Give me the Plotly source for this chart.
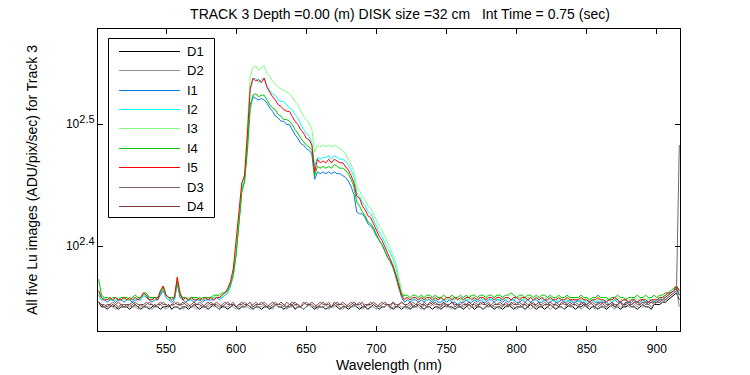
import plotly.graph_objects as go

# Wavelength sampling grid (nm)
wavelength = list(range(502, 917, 2))

D1 = [
226,224,224,223,224,225,224,223,224,224,
224,223,224,225,224,223,224,224,223,224,
225,224,223,224,224,225,223,224,224,223,
224,224,223,224,225,224,223,224,224,223,
224,225,224,223,224,224,223,224,225,224,
223,224,224,225,224,223,224,224,223,224,
224,223,224,225,224,224,223,224,224,225,
223,224,224,223,224,225,224,223,224,224,
224,223,224,224,225,224,223,224,224,223,
224,225,224,223,224,224,223,224,225,224,
223,224,224,225,224,223,224,224,223,224,
224,223,224,224,225,224,223,224,224,223,
224,224,223,224,225,224,224,223,224,224,
223,224,225,224,223,224,224,223,224,225,
224,223,224,224,223,224,225,224,223,224,
224,224,223,224,225,224,223,224,224,223,
224,225,224,223,224,224,223,224,225,224,
223,224,224,225,224,223,224,224,223,224,
224,223,224,225,224,224,223,224,224,225,
224,224,223,224,225,224,224,223,225,225,
225,226,226,227,228,229,230,227]

D2 = [
226,225,224,224,225,224,223,224,225,224,
224,225,224,224,223,224,225,224,224,223,
224,224,225,224,223,224,225,224,224,225,
223,224,225,224,224,223,224,225,224,224,
225,224,224,223,225,224,224,225,224,223,
224,225,224,224,223,224,225,224,224,225,
224,224,223,225,224,224,225,223,224,224,
225,224,224,223,224,225,224,224,223,224,
224,225,223,224,224,225,224,223,224,225,
224,224,225,224,223,224,225,224,224,223,
225,224,224,225,223,224,224,225,224,224,
223,224,225,224,224,223,225,224,224,225,
224,223,224,225,224,224,223,224,225,224,
224,225,223,224,224,225,224,223,224,224,
225,224,224,223,225,224,224,225,224,223,
224,224,225,224,223,224,225,224,224,225,
224,223,224,225,224,224,223,225,224,224,
225,224,223,224,225,224,224,223,224,225,
224,224,225,224,223,225,224,224,225,224,
224,225,224,225,224,225,225,224,225,226,
226,226,227,228,229,230,231,224]

I1 = [
229,227,227,226,227,227,226,227,227,226,
227,227,226,227,227,227,229,228,227,226,
227,227,229,231,228,227,226,227,234,228,
227,226,227,227,226,227,227,226,227,227,
227,227,228,227,228,229,230,233,238,248,
263,279,284,303,328,333,332,331,332,331,
329,326,324,321,320,318,318,316,316,313,
310,308,305,304,302,301,299,285,289,288,
289,288,289,288,289,288,288,287,286,284,
281,277,268,267,267,265,262,261,259,256,
254,252,249,246,244,241,237,232,228,226,
227,226,227,227,226,227,226,227,227,226,
227,226,226,227,226,227,226,226,225,226,
226,227,226,226,227,226,227,226,226,227,
227,226,227,227,226,227,226,227,227,226,
226,227,226,227,226,227,227,226,226,227,
226,226,227,226,226,227,226,226,227,226,
226,227,226,226,225,226,227,226,226,226,
226,226,225,226,227,226,226,225,226,226,
226,227,226,226,227,226,226,227,226,227,
227,228,228,229,230,231,232,229]

I2 = [
230,227,228,227,228,227,227,228,227,228,
227,228,227,227,228,227,229,229,227,228,
227,228,230,232,228,227,228,227,235,229,
227,228,227,227,228,227,227,228,227,228,
227,228,228,228,228,229,230,233,238,248,
263,279,285,306,337,344,345,342,344,345,
340,337,335,334,331,330,330,328,326,325,
322,320,316,313,311,309,305,292,297,296,
297,297,298,296,298,297,296,296,295,293,
290,286,278,276,273,271,268,267,264,261,
258,256,253,250,248,245,241,236,230,228,
228,227,227,228,227,228,227,227,228,227,
227,227,228,227,227,228,227,227,228,227,
228,227,227,228,227,227,228,227,227,228,
227,228,227,227,228,227,228,227,227,228,
227,227,228,227,228,227,227,228,227,227,
228,227,227,226,227,228,227,227,226,227,
227,226,227,227,226,227,227,226,227,227,
226,227,227,226,227,227,226,227,227,226,
227,227,226,227,227,226,227,227,226,227,
227,228,228,229,230,231,232,230]

I3 = [
231,228,227,228,228,227,228,227,228,227,
228,227,228,228,227,228,230,229,228,227,
228,228,231,232,229,228,227,228,236,230,
228,227,228,228,227,228,228,227,228,228,
228,228,229,228,229,230,231,234,239,250,
265,281,287,312,346,352,353,350,352,353,
348,346,343,341,339,338,337,336,335,333,
330,328,324,321,319,317,313,300,304,303,
304,303,304,303,304,303,302,301,299,296,
293,289,281,279,276,274,271,270,267,264,
261,259,256,253,250,247,243,237,231,228,
228,227,228,228,227,228,228,227,228,228,
227,228,228,227,228,227,228,228,227,227,
227,228,227,228,228,227,228,228,227,228,
228,227,228,228,227,228,228,227,228,228,
228,228,227,228,228,227,228,227,228,228,
227,228,227,228,227,228,227,227,228,227,
227,228,227,227,228,227,227,228,227,227,
227,227,228,227,227,228,227,227,228,227,
227,228,227,227,228,227,228,227,227,228,
228,228,229,229,230,231,233,231]

I4 = [
236,229,228,228,227,228,228,227,228,228,
228,227,228,229,228,228,230,230,228,228,
228,228,230,233,229,228,228,228,235,229,
228,228,227,228,228,228,227,228,228,228,
228,229,229,229,230,230,231,234,238,247,
262,278,284,300,325,334,335,333,334,334,
331,328,326,325,322,321,319,319,318,316,
313,311,308,306,304,303,301,287,292,291,
292,291,292,291,293,292,291,291,290,288,
285,281,273,271,268,266,263,262,260,257,
254,252,249,246,244,241,237,232,229,229,
229,228,229,229,228,229,228,229,229,228,
229,228,228,229,228,228,229,228,228,229,
228,229,228,229,229,228,229,229,228,229,
229,228,229,229,228,229,229,230,229,228,
229,229,228,229,229,228,229,228,229,229,
228,229,228,228,229,228,228,229,228,228,
228,228,229,228,228,227,228,228,229,228,
228,228,227,228,228,229,228,228,227,228,
228,228,229,228,228,229,228,228,229,228,
229,229,230,230,231,232,233,231]

I5 = [
231,228,227,227,228,227,228,227,227,228,
227,228,227,228,227,228,230,229,227,227,
228,227,231,233,229,228,227,228,237,230,
227,228,227,228,227,227,228,227,228,227,
228,227,228,228,229,230,232,235,241,253,
268,283,287,310,338,345,343,344,342,345,
339,336,333,331,328,327,325,324,324,321,
318,316,313,311,308,307,304,289,296,294,
295,294,296,294,296,295,294,294,292,290,
287,283,276,275,271,269,266,265,262,259,
256,254,251,248,245,242,238,233,229,227,
228,227,228,228,227,228,227,228,228,227,
228,227,228,227,228,228,227,228,227,228,
227,228,228,227,228,227,228,228,227,228,
228,227,228,228,227,228,228,227,228,228,
227,228,228,227,228,227,228,227,228,227,
227,228,227,227,228,227,227,228,227,227,
227,227,228,227,227,226,227,227,228,227,
227,226,227,227,228,227,226,227,227,226,
227,227,226,227,227,227,226,227,227,227,
228,228,229,230,230,231,233,231]

D3 = [
226,225,225,224,225,226,225,224,225,225,
225,224,225,226,225,225,224,225,226,225,
224,225,225,226,225,224,225,225,226,225,
225,226,225,224,225,225,226,225,224,225,
226,225,225,224,225,226,225,225,226,224,
225,225,226,225,224,225,226,225,225,226,
225,224,225,226,225,225,224,226,225,225,
226,225,224,225,226,225,225,224,225,226,
225,225,226,224,225,226,225,225,224,225,
226,225,225,226,224,225,225,226,225,224,
225,226,225,225,224,226,225,225,226,225,
224,225,226,225,225,224,226,225,225,226,
225,225,224,226,225,225,226,224,225,225,
226,225,225,224,226,225,225,226,225,224,
225,226,225,225,224,226,225,225,226,225,
225,224,226,225,225,226,224,225,225,226,
225,225,224,226,225,225,226,225,224,225,
226,225,225,226,224,225,226,225,225,226,
225,224,225,226,225,225,226,224,226,225,
225,226,225,225,226,225,226,226,225,226,
226,227,227,228,229,230,231,304]

D4 = [
226,225,224,225,225,224,225,226,225,224,
225,225,226,225,224,225,225,226,225,225,
224,225,226,225,225,224,225,226,225,225,
226,225,224,225,226,225,225,224,225,226,
225,225,226,225,224,225,226,225,225,224,
225,226,225,225,226,224,225,225,226,225,
224,225,226,225,225,226,225,224,225,226,
225,225,224,226,225,225,226,225,224,225,
226,225,225,224,226,225,225,226,225,224,
225,226,225,225,226,224,225,225,226,225,
224,225,226,225,225,226,224,225,226,225,
225,226,224,225,226,225,225,224,226,225,
226,225,225,226,224,225,226,225,225,224,
225,225,226,225,225,224,226,225,225,226,
224,225,225,226,225,225,224,226,225,225,
226,225,225,224,226,225,225,226,224,225,
225,226,225,225,224,226,225,225,226,225,
225,224,226,225,225,226,225,224,226,225,
226,225,225,226,224,225,226,225,225,226,
225,226,226,225,226,226,225,226,226,226,
227,227,228,229,230,231,232,229]

series_names = ["D1", "D2", "I1", "I2", "I3", "I4", "I5", "D3", "D4"]
series_values = [D1, D2, I1, I2, I3, I4, I5, D3, D4]
series_colors = ["#000000", "#909090", "#0A78E6", "#00FFFF", "#80FF80",
                 "#00C800", "#FF0000", "#806060", "#804040"]

ytick_vals = [10 ** 2.4, 10 ** 2.5]
ytick_text = ["10<sup><span style='font-size:11px'>2.4</span></sup>",
              "10<sup><span style='font-size:11px'>2.5</span></sup>"]
xtick_vals = [550, 600, 650, 700, 750, 800, 850, 900]

for n, v in zip(series_names, series_values):
    if len(v) != len(wavelength):
        raise ValueError(f"{n}: {len(v)} vs {len(wavelength)}")

FONT = "Liberation Sans, Arial, sans-serif"
W, H = 750, 375
ML, MR, MT, MB = 98, 70, 29, 44
PW, PH = W - ML - MR, H - MT - MB


def px(xp):
    return (xp - ML) / PW


def py(yp):
    return (H - MB - yp) / PH


fig = go.Figure()
for n, v, c in zip(series_names, series_values, series_colors):
    fig.add_trace(go.Scatter(x=wavelength, y=v, mode="lines", name=n,
                             line=dict(color=c, width=1), showlegend=False))

# MATLAB-style legend box (long line samples)
shapes = [dict(type="rect", xref="paper", yref="paper",
               x0=px(108.5), x1=px(214.5), y0=py(217.5), y1=py(38.5),
               line=dict(color="black", width=1), fillcolor="white", layer="above")]
annotations = []
for k, (n, c) in enumerate(zip(series_names, series_colors)):
    yk = round(50.7 + 19.45 * k) + 0.5
    shapes.append(dict(type="line", xref="paper", yref="paper",
                       x0=px(119), x1=px(180), y0=py(yk), y1=py(yk),
                       line=dict(color=c, width=1), layer="above"))
    annotations.append(dict(text=n, xref="paper", yref="paper",
                            x=px(185), y=py(yk), xanchor="left", yanchor="middle",
                            showarrow=False, font=dict(family=FONT, size=13, color="black")))

fig.update_layout(
    width=W, height=H,
    margin=dict(l=ML, r=MR, t=MT, b=MB, autoexpand=False),
    paper_bgcolor="white", plot_bgcolor="white",
    font=dict(family=FONT, size=12, color="black"),
    title=dict(text="TRACK 3 Depth =0.00 (m) DISK size =32 cm\u00a0\u00a0 Int Time = 0.75 (sec)",
               x=px(400), xref="paper", xanchor="center",
               y=1 - 14 / H, yref="container", yanchor="middle",
               font=dict(family=FONT, size=14, color="black")),
    showlegend=False,
    shapes=shapes,
    annotations=annotations,
    xaxis=dict(range=[501.5, 916.5], tickvals=xtick_vals, automargin=False,
               ticks="inside", ticklen=5, tickcolor="black", ticklabelstandoff=7,
               tickfont=dict(family=FONT, size=12, color="black"),
               showline=True, linecolor="black", linewidth=1, mirror="ticks",
               showgrid=False, zeroline=False,
               title=dict(text="Wavelength (nm)", standoff=4,
                          font=dict(family=FONT, size=14, color="black"))),
    yaxis=dict(type="log", range=[2.3305, 2.578], automargin=False,
               tickvals=ytick_vals, ticktext=ytick_text,
               ticks="inside", ticklen=5, tickcolor="black",
               tickfont=dict(family=FONT, size=12, color="black"),
               showline=True, linecolor="black", linewidth=1, mirror="ticks",
               showgrid=False, zeroline=False,
               title=dict(text="All five Lu images (ADU/pix/sec) for Track 3", standoff=25,
                          font=dict(family=FONT, size=14, color="black"))),
)

fig.write_html("out.html", config={"displayModeBar": False},
               post_script="document.body.style.margin='0';")
